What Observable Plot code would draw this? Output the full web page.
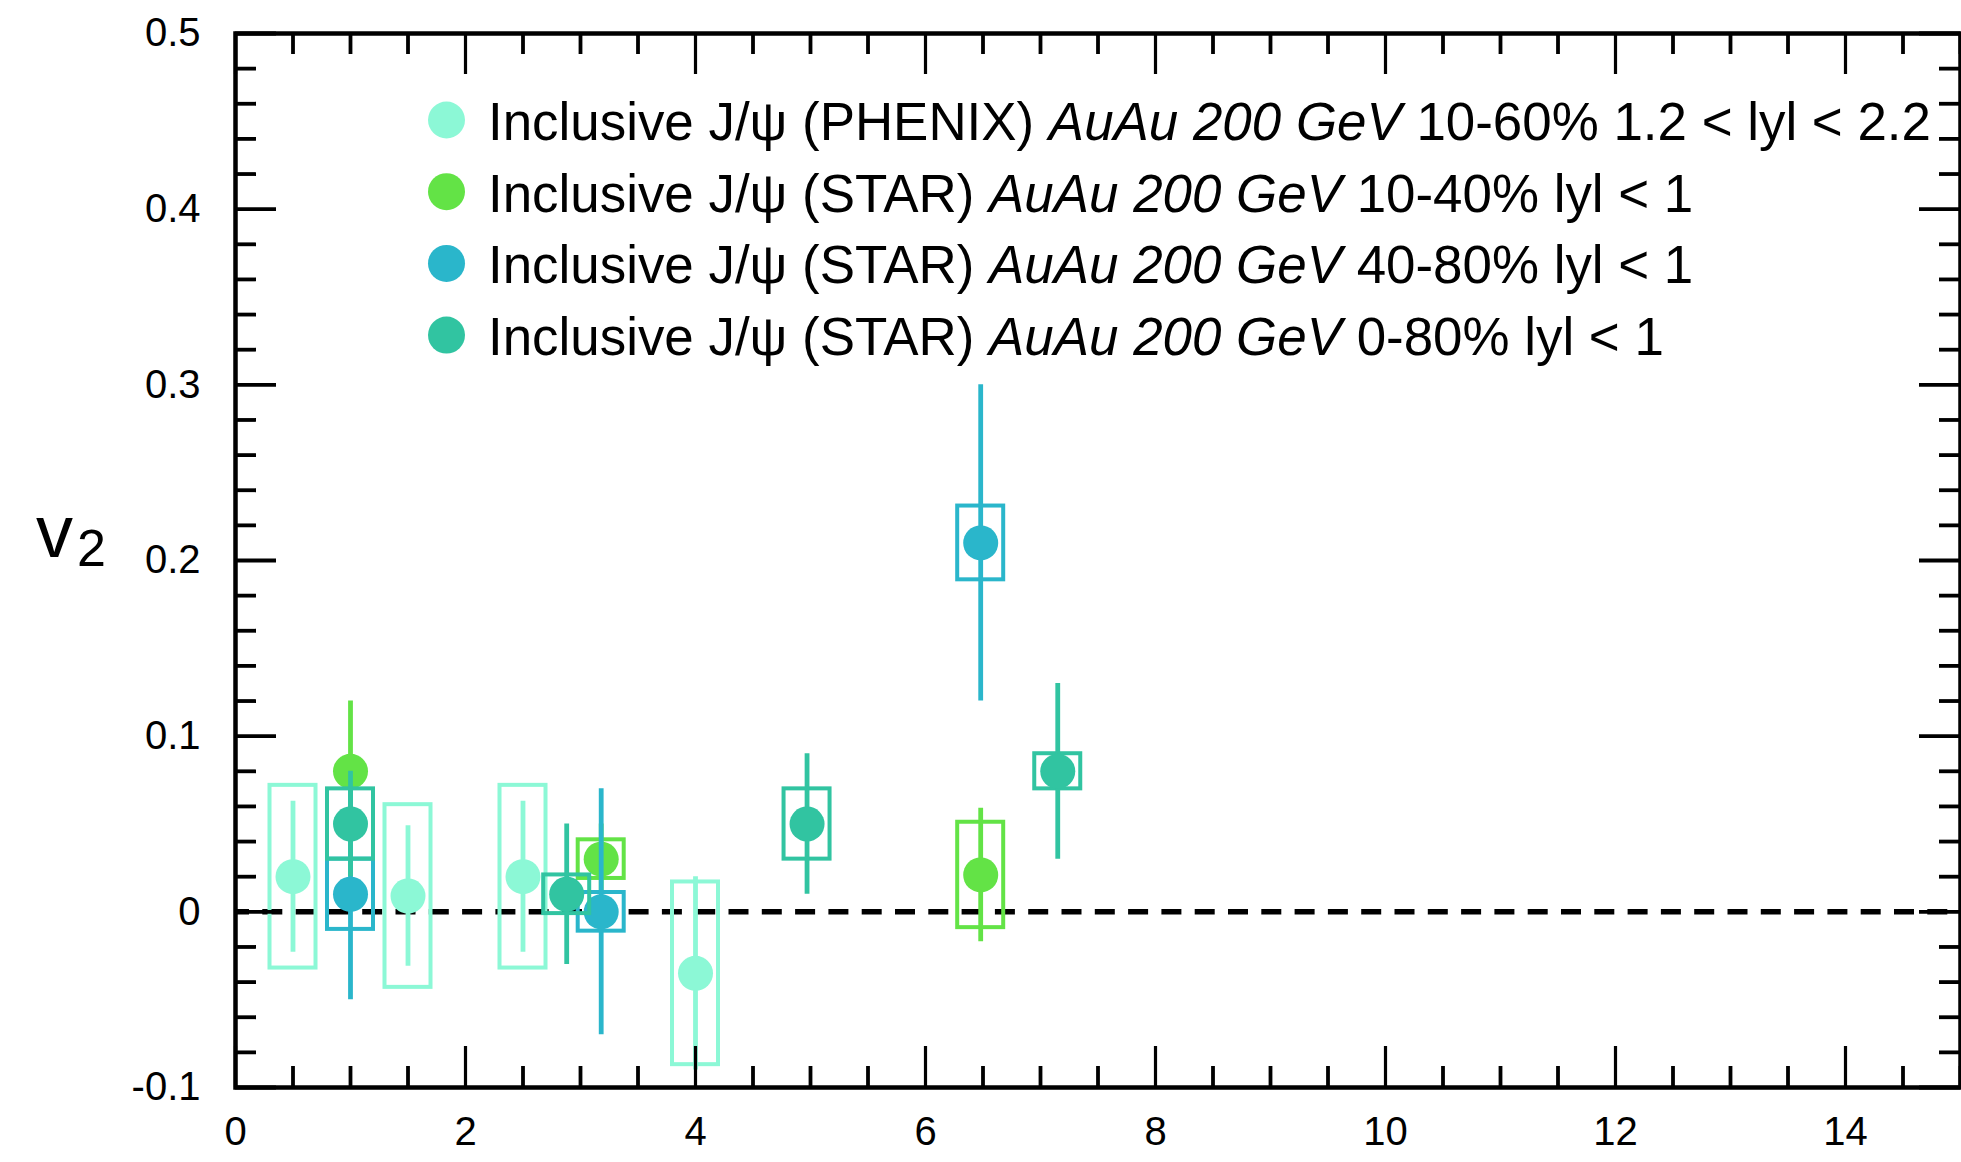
<!DOCTYPE html>
<html>
<head>
<meta charset="utf-8">
<script src="https://cdn.jsdelivr.net/npm/d3@7"></script>
<script src="https://cdn.jsdelivr.net/npm/@observablehq/plot@0.6"></script>
<style>
  body { margin: 0; background: #ffffff; }
  #chart svg { display: block; }
</style>
</head>
<body>
<div id="chart"></div>
<script>
// ---------- data ----------
const seriesColors = ["#8cf8d6", "#63e346", "#2ab6cb", "#31c4a1"];
const legendExp   = ["PHENIX", "STAR", "STAR", "STAR"];
const legendSys   = ["AuAu 200 GeV", "AuAu 200 GeV", "AuAu 200 GeV", "AuAu 200 GeV"];
const legendTail  = ["10-60% 1.2 < lyl < 2.2", "10-40% lyl < 1", "40-80% lyl < 1", "0-80% lyl < 1"];

// PHENIX 10-60%, 1.2<|y|<2.2
const phenixPt   = [0.5, 1.5, 2.5, 4.0];
const phenixV2   = [0.02, 0.009, 0.02, -0.035];
const phenixStat = [0.043, 0.040, 0.043, 0.055];
const phenixSys  = [0.052, 0.052, 0.052, 0.052];

// STAR 10-40%
const star1040Pt   = [1.0, 3.18, 6.48];
const star1040V2   = [0.08, 0.03, 0.021];
const star1040Stat = [0.04, 0.02, 0.038];
const star1040Sys  = [0, 0.011, 0.03];

// STAR 40-80%
const star4080Pt   = [1.0, 3.18, 6.48];
const star4080V2   = [0.01, 0.0, 0.21];
const star4080Stat = [0.06, 0.07, 0.09];
const star4080Sys  = [0.02, 0.011, 0.021];

// STAR 0-80%
const star080Pt   = [1.0, 2.88, 4.97, 7.15];
const star080V2   = [0.05, 0.01, 0.05, 0.08];
const star080Stat = [0.03, 0.04, 0.04, 0.05];
const star080Sys  = [0.02, 0.011, 0.02, 0.01];

const boxHalfWidth = 0.2; // pT half-width of systematic boxes

const xTickValues = [0, 2, 4, 6, 8, 10, 12, 14];
const xTickLabels = ["0", "2", "4", "6", "8", "10", "12", "14"];
const yTickValues = [-0.1, 0, 0.1, 0.2, 0.3, 0.4, 0.5];
const yTickLabels = ["-0.1", "0", "0.1", "0.2", "0.3", "0.4", "0.5"];

// ---------- build tables ----------
function rows(pt, v, stat, sys) {
  return pt.map((x, i) => ({x, v: v[i], stat: stat[i], sys: sys[i]}));
}
const series = [
  {rows: rows(phenixPt, phenixV2, phenixStat, phenixSys), color: seriesColors[0]},
  {rows: rows(star1040Pt, star1040V2, star1040Stat, star1040Sys), color: seriesColors[1]},
  {rows: rows(star4080Pt, star4080V2, star4080Stat, star4080Sys), color: seriesColors[2]},
  {rows: rows(star080Pt, star080V2, star080Stat, star080Sys), color: seriesColors[3]}
];

// ---------- layout ----------
const W = 1961, H = 1162;
const mL = 235, mR = 1, mT = 33, mB = 75;
const frameW = W - mL - mR, frameH = H - mT - mB;
const majorLen = 41, minorLen = 21;

const xMajor = d3.range(0, 16, 2);
const xMinor = d3.range(0, 15.01, 0.5).filter(v => Math.abs(v / 2 - Math.round(v / 2)) > 1e-6);
const yMajor = d3.range(-10, 51, 10).map(v => v / 100);
const yMinor = d3.range(-10, 51, 2).filter(v => v % 10 !== 0).map(v => v / 100);

const xLabelOf = new Map(xTickValues.map((v, i) => [v, xTickLabels[i]]));
const yLabelOf = new Map(yTickValues.map((v, i) => [v.toFixed(2), yTickLabels[i]]));

const marks = [
  Plot.ruleY([0], {stroke: "#000", strokeWidth: 5.5, strokeDasharray: "20,13.3", strokeDashoffset: 6})
];
for (const s of series) {
  marks.push(Plot.rect(s.rows.filter(d => d.sys > 0), {
    x1: d => d.x - boxHalfWidth, x2: d => d.x + boxHalfWidth,
    y1: d => d.v - d.sys, y2: d => d.v + d.sys,
    fill: "none", stroke: s.color, strokeWidth: 4
  }));
  marks.push(Plot.ruleX(s.rows, {
    x: "x", y1: d => d.v - d.stat, y2: d => d.v + d.stat,
    stroke: s.color, strokeWidth: 4.8
  }));
  marks.push(Plot.dot(s.rows, {x: "x", y: "v", r: 17.5, fill: s.color, stroke: "none"}));
}
// inward ticks on all four sides
marks.push(
  Plot.tickX(xMajor, {x: d => d, insetTop: frameH - majorLen, stroke: "#000", strokeWidth: 3.2}),
  Plot.tickX(xMinor, {x: d => d, insetTop: frameH - minorLen, stroke: "#000", strokeWidth: 3.8}),
  Plot.tickX(xMajor, {x: d => d, insetBottom: frameH - majorLen, stroke: "#000", strokeWidth: 3.2}),
  Plot.tickX(xMinor, {x: d => d, insetBottom: frameH - minorLen, stroke: "#000", strokeWidth: 3.8}),
  Plot.tickY(yMajor, {y: d => d, insetRight: frameW - majorLen, stroke: "#000", strokeWidth: 3.8}),
  Plot.tickY(yMinor, {y: d => d, insetRight: frameW - minorLen, stroke: "#000", strokeWidth: 3.8}),
  Plot.tickY(yMajor, {y: d => d, insetLeft: frameW - majorLen, stroke: "#000", strokeWidth: 3.8}),
  Plot.tickY(yMinor, {y: d => d, insetLeft: frameW - minorLen, stroke: "#000", strokeWidth: 3.8}),
  Plot.frame({stroke: "#000", strokeWidth: 4.5}),
  Plot.axisX(xTickValues, {
    anchor: "bottom", tickSize: 0, tickPadding: 29, fontSize: 40, label: null,
    tickFormat: d => xLabelOf.get(d)
  }),
  Plot.axisY(yTickValues, {
    anchor: "left", tickSize: 0, tickPadding: 35, fontSize: 40, label: null,
    tickFormat: d => yLabelOf.get(d.toFixed(2))
  })
);

const svg = Plot.plot({
  width: W, height: H,
  marginLeft: mL, marginRight: mR, marginTop: mT, marginBottom: mB,
  style: {fontFamily: "'Liberation Sans', Arial, Helvetica, sans-serif", color: "#000", background: "#fff", overflow: "visible"},
  x: {domain: [0, 15]},
  y: {domain: [-0.1, 0.5]},
  marks
});

// ---------- y label (v2) ----------
const root = d3.select(svg);
const ylab = root.append("text")
  .attr("text-anchor", "start")
  .attr("font-family", "'Liberation Sans', Arial, sans-serif")
  .attr("fill", "#000");
ylab.append("tspan").attr("x", 36).attr("y", 557).attr("font-size", 74).text("v");
ylab.append("tspan").attr("x", 77).attr("y", 566).attr("font-size", 52).text("2");

// ---------- legend ----------
const lg = root.append("g")
  .attr("text-anchor", "start")
  .attr("font-family", "'Liberation Sans', Arial, sans-serif")
  .attr("font-size", 52.9);
const rowStep = 71.7, circleX = 446.5, circleY0 = 120, textX = 488, baseY0 = 140;
seriesColors.forEach((c, i) => {
  lg.append("circle").attr("cx", circleX).attr("cy", circleY0 + i * rowStep).attr("r", 18.5).attr("fill", c);
  const t = lg.append("text").attr("x", textX).attr("y", baseY0 + i * rowStep).attr("fill", "#000");
  t.append("tspan").text(`Inclusive J/\u03c8 (${legendExp[i]}) `);
  t.append("tspan").attr("font-style", "italic").text(legendSys[i]);
  t.append("tspan").text(" " + legendTail[i]);
});

document.getElementById("chart").appendChild(svg);
</script>
</body>
</html>
